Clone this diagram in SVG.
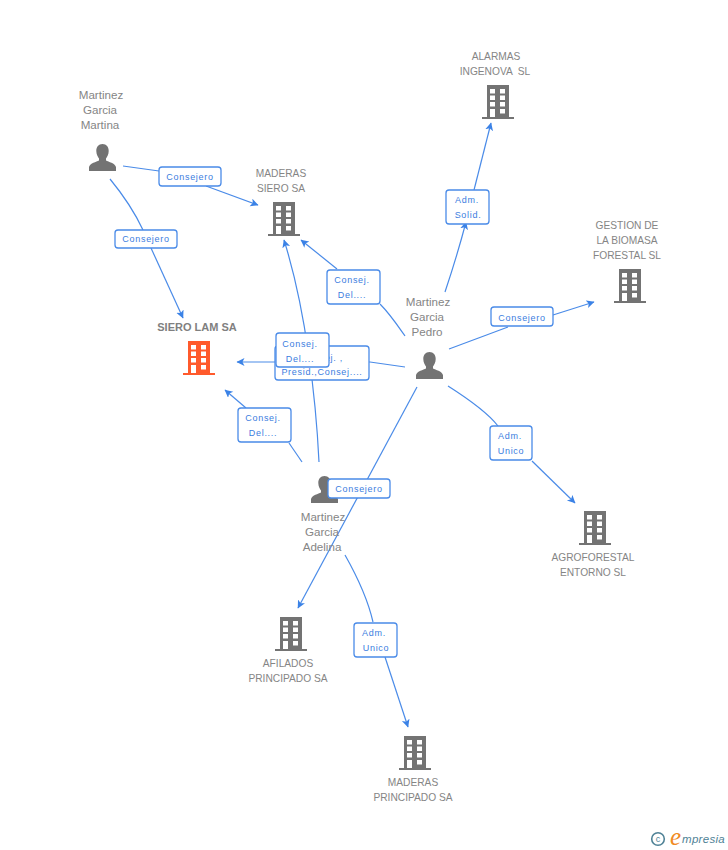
<svg xmlns="http://www.w3.org/2000/svg" width="728" height="850" viewBox="0 0 728 850">
<style>
.n{font:10.2px "Liberation Sans",Arial,sans-serif;fill:#858585;text-anchor:middle}
.p{font:11.6px "Liberation Sans",Arial,sans-serif;fill:#858585;text-anchor:middle}
.m{font:bold 11px "Liberation Sans",Arial,sans-serif;fill:#808080;text-anchor:middle}
.l{font:9px "Liberation Sans",Arial,sans-serif;fill:#3b7de0;text-anchor:middle;letter-spacing:.7px}
.b{fill:#fff;stroke:#4a8be8;stroke-width:1.3}
.c{fill:none;stroke:#4a8be8;stroke-width:1.2}
.a{stroke:#4a8be8;fill:none;stroke-width:1.2;marker-end:url(#ah)}
</style>
<defs>
<marker id="ah" markerUnits="userSpaceOnUse" markerWidth="10" markerHeight="10" refX="7.500" refY="4" orient="auto"><path d="M0 0L8 4L0 8L2 4Z" fill="#3b82e6"/></marker>
<symbol id="bld" overflow="visible"><path fill-rule="evenodd" d="M5 0H27V32H32V34H0V32H5ZM8 4V8.500H13V4ZM18 4V8.500H23V4ZM8 10.500V15H13V10.500ZM18 10.500V15H23V10.500ZM8 17V21.500H13V17ZM18 17V21.500H23V17ZM8 24V32H13V24ZM18 24V28.500H23V24Z"/></symbol>
<symbol id="per" overflow="visible"><path fill="#737373" d="M13.5 0C17.5 0 19.7 3 19.7 7C19.7 10.500 18 13 17 14.500V16.500C19.500 18 26 19 27 23V27H0V23C1 19 7.500 18 10 16.500V14.500C9 13 7.300 10.500 7.300 7C7.300 3 9.500 0 13.500 0Z"/></symbol>
</defs>
<g id="connectors">
<path class="c" d="M123 166L159 171"/><path class="a" d="M206 186L258 205"/>
<path class="c" d="M110 179C124 196 135 213 143 230"/><path class="a" d="M151 248L183 318"/>
<path class="a" d="M337 269L301 240"/><path class="c" d="M380 304C390 314 398 326 405 336"/>
<path class="a" d="M445 292C453 268 460 245 466 222"/><path class="a" d="M474 190L491 123"/>
<path class="c" d="M449 349L508 327"/><path class="a" d="M553 315L594 302"/>
<path class="a" d="M405 367L370 362L237 362"/>
<path class="c" d="M448 386C470 400 488 413 498 426"/><path class="a" d="M532 461L575 503"/>
<path class="a" d="M417 387L298 608"/>
<path class="c" d="M345 555C358 578 368 600 373 622"/><path class="a" d="M385 657L408 727"/>
<path class="a" d="M319 462C316 400 306 310 284 240"/>
<path class="c" d="M302 462L289 443"/><path class="a" d="M246 408L225 390"/>
</g>
<g id="siero-lam"><text class="m" x="197" y="331">SIERO LAM SA</text><use href="#bld" x="183" y="341" fill="#ff5a2c"/></g>
<g id="martina"><text class="p" x="101" y="99">Martinez</text><text class="p" x="100" y="114">Garcia</text><text class="p" x="100" y="129">Martina</text><use href="#per" x="89" y="144"/></g>
<g id="maderas-siero"><text class="n" x="281" y="177">MADERAS</text><text class="n" x="281" y="192">SIERO SA</text><use href="#bld" x="268" y="202" fill="#737373"/></g>
<g id="alarmas"><text class="n" x="496" y="60">ALARMAS</text><text class="n" x="495" y="75" xml:space="preserve">INGENOVA  SL</text><use href="#bld" x="482" y="85" fill="#737373"/></g>
<g id="gestion"><text class="n" x="627" y="229">GESTION DE</text><text class="n" x="627" y="244">LA BIOMASA</text><text class="n" x="627" y="259">FORESTAL SL</text><use href="#bld" x="614" y="269" fill="#737373"/></g>
<g id="pedro"><text class="p" x="428" y="306">Martinez</text><text class="p" x="427" y="321">Garcia</text><text class="p" x="427" y="336">Pedro</text><use href="#per" x="416" y="352"/></g>
<g id="agroforestal"><text class="n" x="593" y="561">AGROFORESTAL</text><text class="n" x="593" y="576">ENTORNO SL</text><use href="#bld" x="579" y="511" fill="#737373"/></g>
<g id="adelina"><use href="#per" x="311" y="476"/><text class="p" x="323" y="521">Martinez</text><text class="p" x="322" y="536">Garcia</text><text class="p" x="322" y="551">Adelina</text></g>
<g id="afilados"><text class="n" x="288" y="667">AFILADOS</text><text class="n" x="288" y="682">PRINCIPADO SA</text><use href="#bld" x="275" y="617" fill="#737373"/></g>
<g id="maderas-principado"><text class="n" x="413" y="786">MADERAS</text><text class="n" x="413" y="801">PRINCIPADO SA</text><use href="#bld" x="399" y="736" fill="#737373"/></g>
<g id="labels">
<rect class="b" x="159" y="167" width="62" height="19" rx="3"/><text class="l" x="190" y="180">Consejero</text>
<rect class="b" x="115" y="230" width="62" height="18" rx="3"/><text class="l" x="146" y="242">Consejero</text>
<rect class="b" x="327" y="270" width="53" height="34" rx="3"/><text class="l" x="352" y="283">Consej.</text><text class="l" x="352" y="298">Del....</text>
<rect class="b" x="446" y="190" width="43" height="34" rx="3"/><text class="l" x="467" y="203">Adm.</text><text class="l" x="468" y="218">Solid.</text>
<rect class="b" x="491" y="307" width="62" height="19" rx="3"/><text class="l" x="522" y="321">Consejero</text>
<rect class="b" x="275" y="346" width="94" height="34" rx="3"/><text class="l" x="322" y="361">Consej. ,</text><text class="l" x="322" y="375">Presid.,Consej....</text>
<rect class="b" x="276" y="333" width="53" height="34" rx="3"/><text class="l" x="300" y="347">Consej.</text><text class="l" x="300" y="362">Del....</text>
<rect class="b" x="238" y="408" width="53" height="34" rx="3"/><text class="l" x="263" y="421">Consej.</text><text class="l" x="263" y="436">Del....</text>
<rect class="b" x="490" y="426" width="42" height="34" rx="3"/><text class="l" x="510" y="439">Adm.</text><text class="l" x="511" y="454">Unico</text>
<rect class="b" x="328" y="479" width="62" height="19" rx="3"/><text class="l" x="359" y="492">Consejero</text>
<rect class="b" x="354" y="623" width="43" height="34" rx="3"/><text class="l" x="374" y="636">Adm.</text><text class="l" x="376" y="651">Unico</text>
</g>
<g id="logo"><circle cx="658" cy="839" r="6.300" fill="none" stroke="#4f8296" stroke-width="1.600"/><text x="658" y="842" font-family="Liberation Sans,sans-serif" font-size="9" fill="#4f8296" text-anchor="middle">c</text><text x="670" y="845" font-family="Liberation Serif,serif" font-style="italic" font-size="25" fill="#f08a24">e</text><text x="682" y="843" font-family="Liberation Sans,sans-serif" font-style="italic" font-size="11.500" fill="#4f8296" letter-spacing=".3">mpresia</text></g>
</svg>
